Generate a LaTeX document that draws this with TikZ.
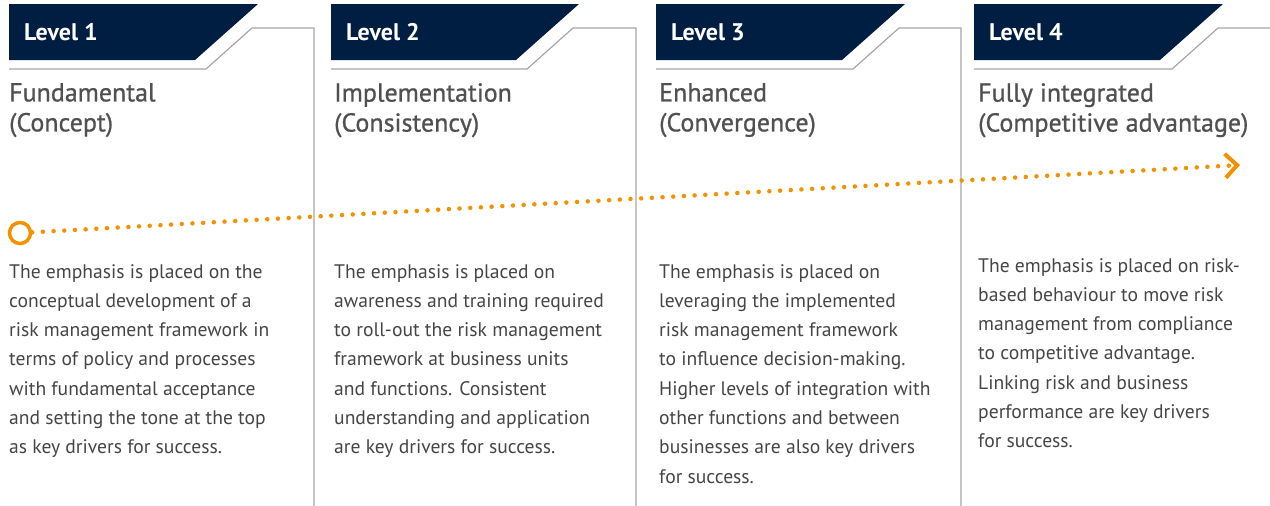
\documentclass[tikz,border=0pt]{standalone}
\usepackage{fontspec}
\setmainfont{PT Sans}
\usepackage{xcolor}
\usetikzlibrary{positioning, arrows.meta}

\definecolor{navy}{HTML}{001E42}
\definecolor{rulegray}{HTML}{A6A6A6}
\definecolor{headgray}{HTML}{505050}
\definecolor{bodygray}{HTML}{454545}
\definecolor{amber}{HTML}{F39200}

\begin{document}
\begin{tikzpicture}[
    x=1pt, y=-1pt,
    banner/.style={
        fill=navy
    },
    lvl/.style={
        anchor=west,
        inner sep=0pt,
        text=white,
        font=\fontsize{24}{26}\selectfont\bfseries
    },
    edge/.style={
        draw=rulegray,
        line width=1.2pt
    },
    head/.style={
        anchor=north west,
        inner sep=0pt,
        align=left,
        text=headgray,
        font=\fontsize{26}{30}\selectfont\addfontfeatures{FakeBold=0.8}
    },
    body/.style={
        anchor=north west,
        inner sep=0pt,
        align=left,
        text=bodygray,
        font=\fontsize{19.6}{29.3}\selectfont
    },
    track/.style={
        draw=amber,
        line width=4.5pt,
        line cap=round,
        dash pattern=on 0pt off 10.7pt,
        -{Straight Barb[length=12pt,width=24pt,line width=4pt]}
    }
]
\useasboundingbox (0,0) rectangle (1270,506);

% Level 1
\fill[banner] (9,4) -- (258,4) -- (195,60) -- (9,60) -- cycle;
\node[lvl] (lvl1) at (24,32) {Level 1};
\draw[edge] (9,69) -- (206,69) -- (252,28) -- (314,28) -- (314,506);
\node[head] (head1) at (9,83) {Fundamental\\(Concept)};
\node[body] (text1) at (9,264) {
  The emphasis is placed on the\\
  conceptual development of a\\
  risk management framework in\\
  terms of policy and processes\\
  with fundamental acceptance\\
  and setting the tone at the top\\
  as key drivers for success.
};

% Level 2
\fill[banner] (331,4) -- (579,4) -- (516,60) -- (331,60) -- cycle;
\node[lvl] (lvl2) at (346,32) {Level 2};
\draw[edge] (331,69) -- (527,69) -- (573,28) -- (636,28) -- (636,506);
\node[head] (head2) at (334,83) {Implementation\\(Consistency)};
\node[body] (text2) at (334,264) {
  The emphasis is placed on\\
  awareness and training required\\
  to roll-out the risk management\\
  framework at business units\\
  and functions. Consistent\\
  understanding and application\\
  are key drivers for success.
};

% Level 3
\fill[banner] (656,4) -- (905,4) -- (842,60) -- (656,60) -- cycle;
\node[lvl] (lvl3) at (671,32) {Level 3};
\draw[edge] (656,69) -- (853,69) -- (899,28) -- (961,28) -- (961,506);
\node[head] (head3) at (659,83) {Enhanced\\(Convergence)};
\node[body] (text3) at (659,264) {
  The emphasis is placed on\\
  leveraging the implemented\\
  risk management framework\\
  to influence decision-making.\\
  Higher levels of integration with\\
  other functions and between\\
  businesses are also key drivers\\
  for success.
};

% Level 4
\fill[banner] (974,4) -- (1223,4) -- (1160,60) -- (974,60) -- cycle;
\node[lvl] (lvl4) at (989,32) {Level 4};
\draw[edge] (974,69) -- (1172,69) -- (1218,28) -- (1270,28);
\node[head] (head4) at (978,83) {Fully integrated\\(Competitive advantage)};
\node[body] (text4) at (978,258) {
  The emphasis is placed on risk-\\
  based behaviour to move risk\\
  management from compliance\\
  to competitive advantage.\\
  Linking risk and business\\
  performance are key drivers\\
  for success.
};

% Maturity track
\node[circle, draw=amber, line width=3.5pt, fill=white, minimum size=21pt, inner sep=0pt] (start) at (20,233) {};
\coordinate (finish) at (1240,165);
\draw[track] (start) -- (finish);

\end{tikzpicture}
\end{document}
